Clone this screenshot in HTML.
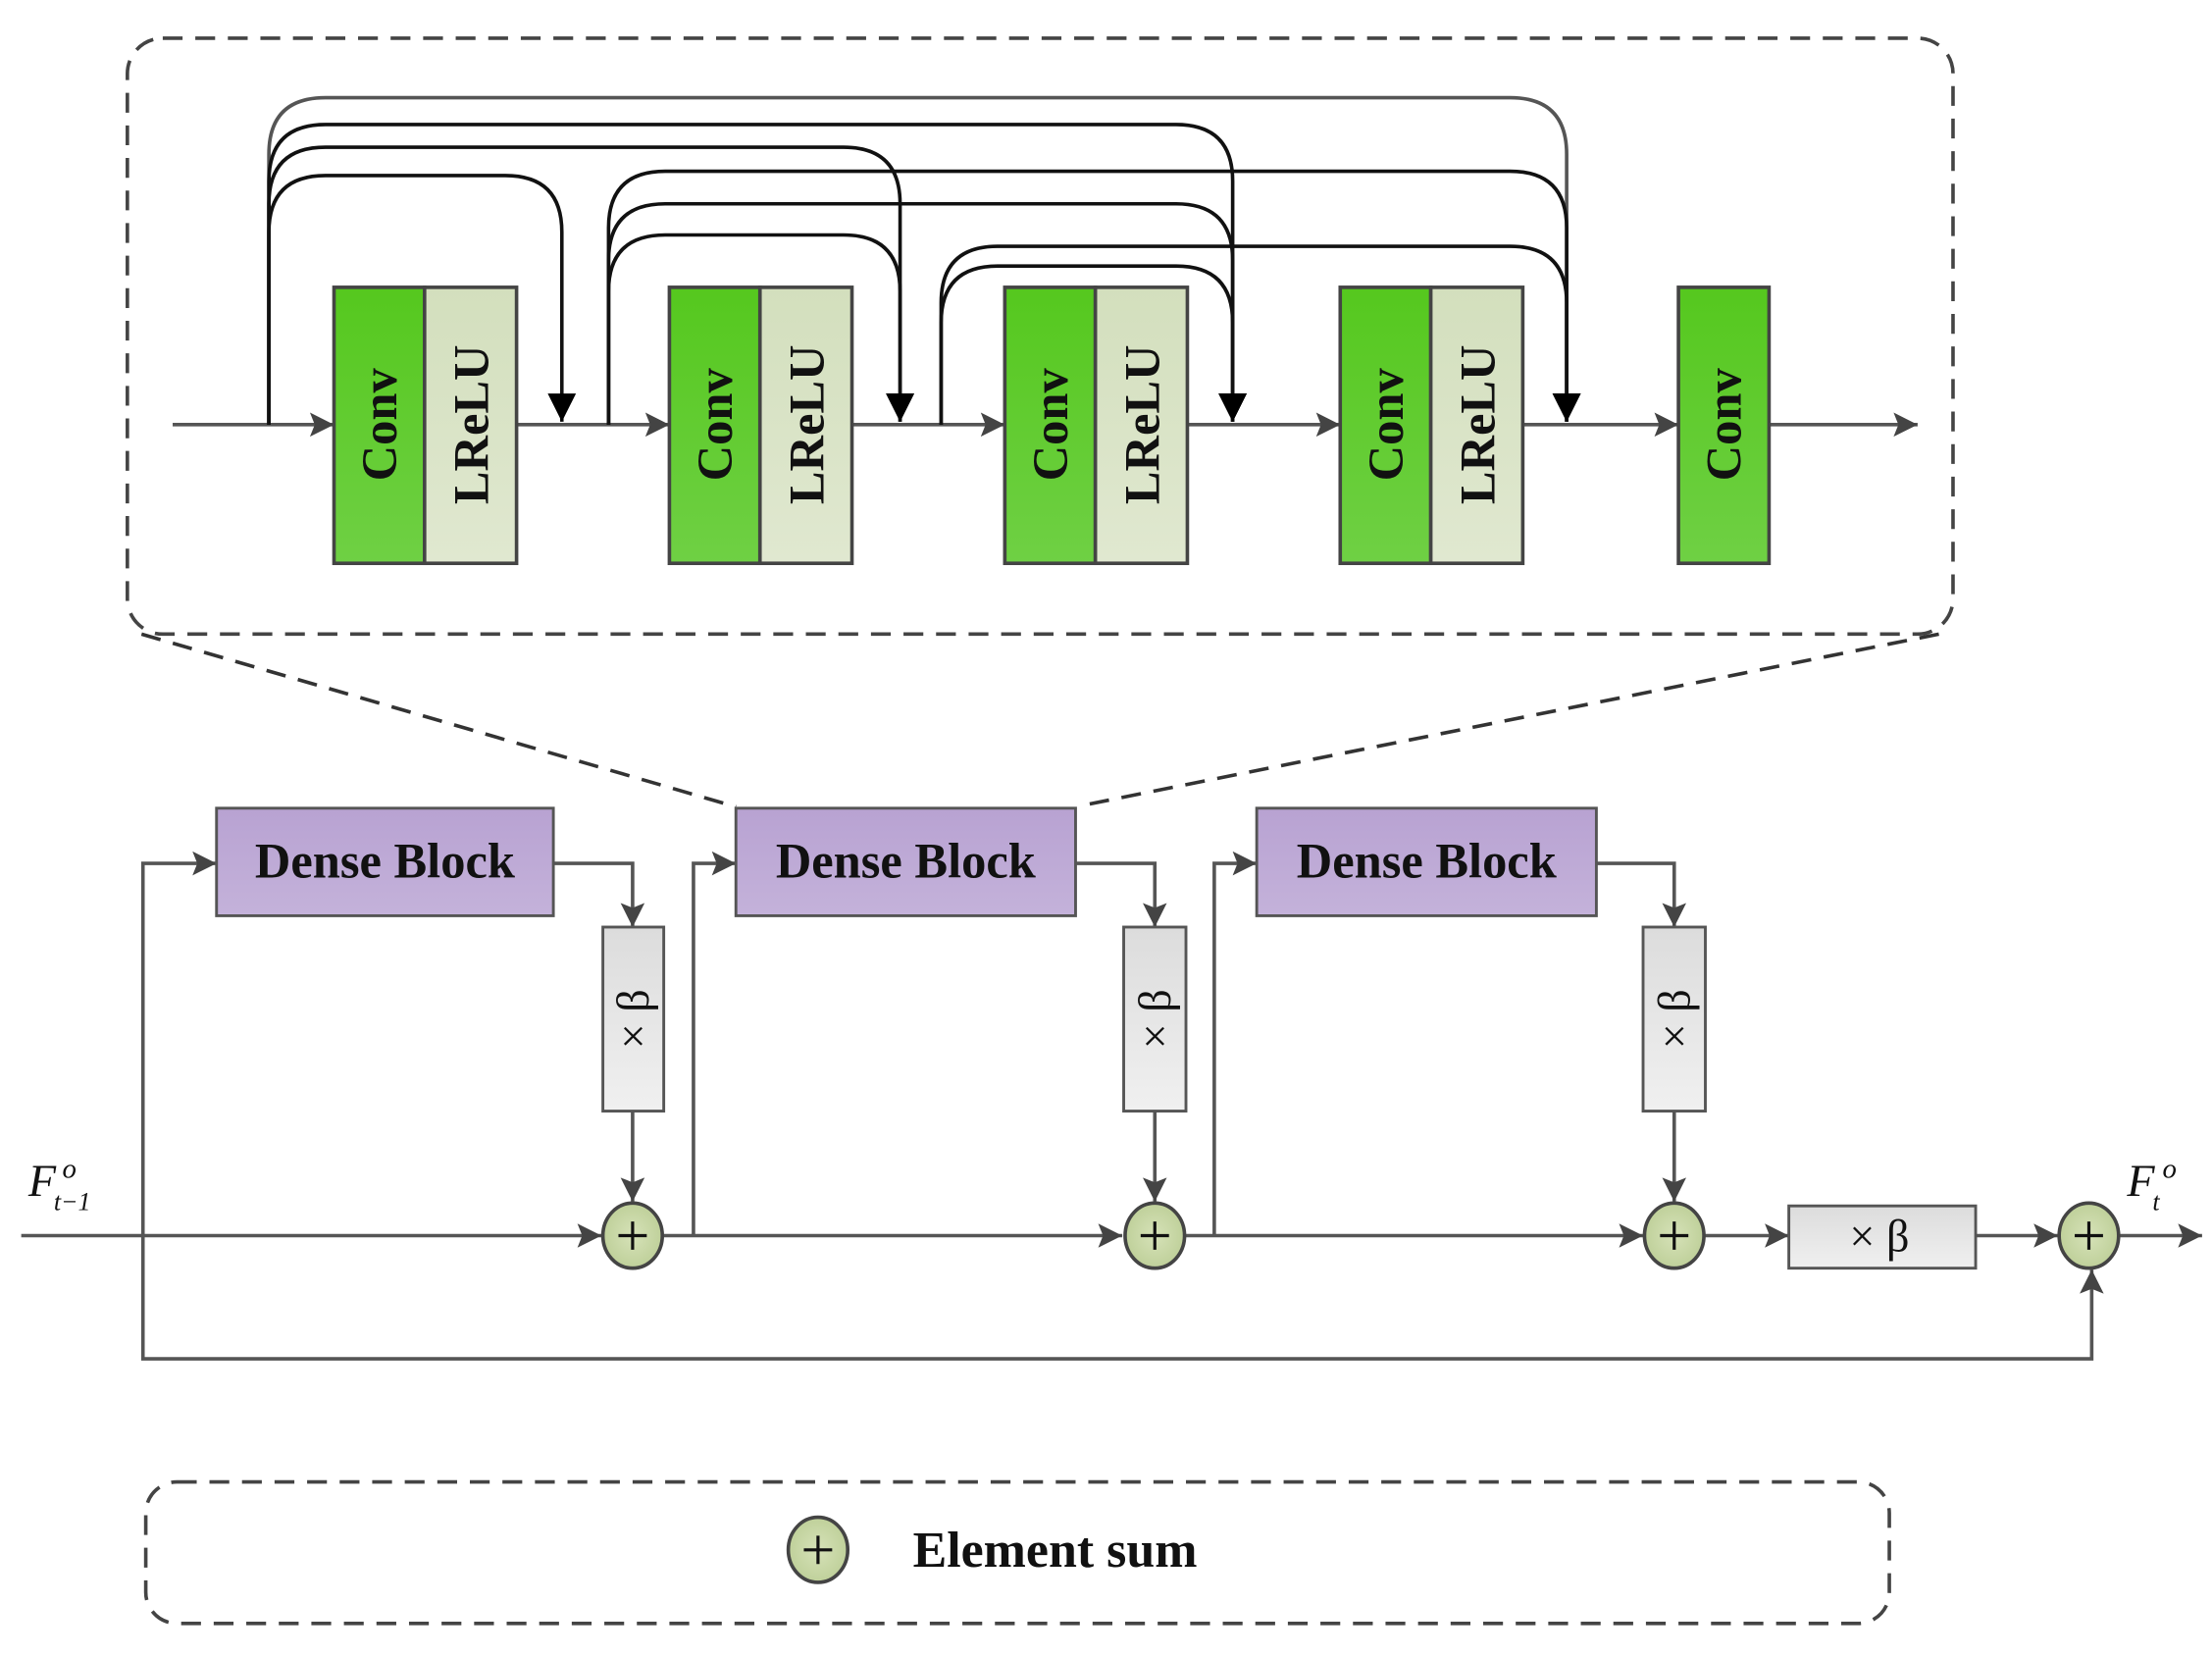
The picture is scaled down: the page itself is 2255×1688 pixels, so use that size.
<!DOCTYPE html>
<html><head><meta charset="utf-8"><style>html,body{margin:0;padding:0;background:#fff}svg{display:block}</style></head>
<body>
<svg width="2255" height="1688" viewBox="0 0 1563 1170" xmlns="http://www.w3.org/2000/svg" font-family="Liberation Serif, serif">
<defs>
<linearGradient id="g" x1="0" y1="0" x2="0" y2="1"><stop offset="0" stop-color="#55c81e"/><stop offset="1" stop-color="#6fd044"/></linearGradient>
<linearGradient id="l" x1="0" y1="0" x2="0" y2="1"><stop offset="0" stop-color="#d3dfbd"/><stop offset="1" stop-color="#e0e8d0"/></linearGradient>
<linearGradient id="p" x1="0" y1="0" x2="0" y2="1"><stop offset="0" stop-color="#b8a2d2"/><stop offset="1" stop-color="#c4b2da"/></linearGradient>
<linearGradient id="b" x1="0" y1="0" x2="0" y2="1"><stop offset="0" stop-color="#dcdcdc"/><stop offset="1" stop-color="#f0f0f0"/></linearGradient>
<radialGradient id="c"><stop offset="0" stop-color="#d6e2b8"/><stop offset="1" stop-color="#bfd09a"/></radialGradient>
<marker id="ag" viewBox="0 0 10 10" markerWidth="20" markerHeight="17" refX="10" refY="5" orient="auto" markerUnits="userSpaceOnUse"><path d="M0,0 L10,5 L0,10 L2,5 Z" fill="#444"/></marker>
<marker id="ak" viewBox="0 0 10 10" markerWidth="26" markerHeight="20" refX="10" refY="5" orient="auto" markerUnits="userSpaceOnUse"><path d="M0,0 L10,5 L0,10 Z" fill="#000"/></marker>
</defs>
<rect x="90" y="27" width="1290" height="421" rx="25" fill="none" stroke="#444" stroke-width="2.5" stroke-dasharray="14,9"/>
<line x1="100" y1="448" x2="520" y2="570" stroke="#333" stroke-width="2.5" stroke-dasharray="14,9"/>
<line x1="1370" y1="448" x2="770" y2="568" stroke="#333" stroke-width="2.5" stroke-dasharray="14,9"/>
<g stroke="#555" stroke-width="2.5" fill="none">
<line x1="122" y1="300" x2="236" y2="300" marker-end="url(#ag)"/>
<line x1="365" y1="300" x2="473" y2="300" marker-end="url(#ag)"/>
<line x1="602" y1="300" x2="710" y2="300" marker-end="url(#ag)"/>
<line x1="839" y1="300" x2="947" y2="300" marker-end="url(#ag)"/>
<line x1="1076" y1="300" x2="1186" y2="300" marker-end="url(#ag)"/>
<line x1="1250" y1="300" x2="1355" y2="300" marker-end="url(#ag)"/>
</g>
<g fill="none" stroke="#111" stroke-width="2.5">
<path d="M190,300 V109 Q190,69 230,69 H1067 Q1107,69 1107,109 V298" stroke="#555" marker-end="url(#ak)"/>
<path d="M190,300 V128 Q190,88 230,88 H831 Q871,88 871,128 V298" marker-end="url(#ak)"/>
<path d="M190,300 V144 Q190,104 230,104 H596 Q636,104 636,144 V298" marker-end="url(#ak)"/>
<path d="M190,300 V164 Q190,124 230,124 H357 Q397,124 397,164 V298" marker-end="url(#ak)"/>
<path d="M430,300 V161 Q430,121 470,121 H1067 Q1107,121 1107,161 V298" marker-end="url(#ak)"/>
<path d="M430,300 V184 Q430,144 470,144 H831 Q871,144 871,184 V298" marker-end="url(#ak)"/>
<path d="M430,300 V206 Q430,166 470,166 H596 Q636,166 636,206 V298" marker-end="url(#ak)"/>
<path d="M665,300 V214 Q665,174 705,174 H1067 Q1107,174 1107,214 V298" marker-end="url(#ak)"/>
<path d="M665,300 V228 Q665,188 705,188 H831 Q871,188 871,228 V298" marker-end="url(#ak)"/>
</g>
<g stroke="#444" stroke-width="2.5">
<rect x="236" y="203" width="64" height="195" fill="url(#g)"/><rect x="300" y="203" width="65" height="195" fill="url(#l)"/>
<rect x="473" y="203" width="64" height="195" fill="url(#g)"/><rect x="537" y="203" width="65" height="195" fill="url(#l)"/>
<rect x="710" y="203" width="64" height="195" fill="url(#g)"/><rect x="774" y="203" width="65" height="195" fill="url(#l)"/>
<rect x="947" y="203" width="64" height="195" fill="url(#g)"/><rect x="1011" y="203" width="65" height="195" fill="url(#l)"/>
<rect x="1186" y="203" width="64" height="195" fill="url(#g)"/>
</g>
<g font-weight="bold" font-size="35" fill="#111" text-anchor="middle">
<text transform="translate(280,300) rotate(-90)">Conv</text><text transform="translate(345,300) rotate(-90)">LReLU</text>
<text transform="translate(517,300) rotate(-90)">Conv</text><text transform="translate(582,300) rotate(-90)">LReLU</text>
<text transform="translate(754,300) rotate(-90)">Conv</text><text transform="translate(819,300) rotate(-90)">LReLU</text>
<text transform="translate(991,300) rotate(-90)">Conv</text><text transform="translate(1056,300) rotate(-90)">LReLU</text>
<text transform="translate(1230,300) rotate(-90)">Conv</text>
</g>
<g stroke="#555" stroke-width="2.5" fill="none">
<line x1="15" y1="873" x2="425" y2="873" marker-end="url(#ag)"/>
<line x1="469" y1="873" x2="793" y2="873" marker-end="url(#ag)"/>
<line x1="837" y1="873" x2="1161" y2="873" marker-end="url(#ag)"/>
<line x1="1205" y1="873" x2="1264" y2="873" marker-end="url(#ag)"/>
<line x1="1396" y1="873" x2="1454" y2="873" marker-end="url(#ag)"/>
<line x1="1498" y1="873" x2="1556" y2="873" marker-end="url(#ag)"/>
<path d="M101,873 V610 H153" marker-end="url(#ag)"/>
<path d="M490,873 V610 H520" marker-end="url(#ag)"/>
<path d="M858,873 V610 H888" marker-end="url(#ag)"/>
<path d="M101,873 V960 H1478 V897" marker-end="url(#ag)"/>
<path d="M391,610 H447 V655" marker-end="url(#ag)"/>
<path d="M760,610 H816 V655" marker-end="url(#ag)"/>
<path d="M1128,610 H1183 V655" marker-end="url(#ag)"/>
<line x1="447" y1="785" x2="447" y2="849" marker-end="url(#ag)"/>
<line x1="816" y1="785" x2="816" y2="849" marker-end="url(#ag)"/>
<line x1="1183" y1="785" x2="1183" y2="849" marker-end="url(#ag)"/>
</g>
<g stroke="#555" stroke-width="2" fill="url(#p)">
<rect x="153" y="571" width="238" height="76"/><rect x="520" y="571" width="240" height="76"/><rect x="888" y="571" width="240" height="76"/>
</g>
<g font-weight="bold" font-size="35" fill="#111" text-anchor="middle">
<text x="272" y="620">Dense Block</text><text x="640" y="620">Dense Block</text><text x="1008" y="620">Dense Block</text>
</g>
<g stroke="#555" stroke-width="2" fill="url(#b)">
<rect x="426" y="655" width="43" height="130"/><rect x="794" y="655" width="44" height="130"/><rect x="1161" y="655" width="44" height="130"/>
<rect x="1264" y="852" width="132" height="44"/>
</g>
<g font-size="32" fill="#111" text-anchor="middle">
<text transform="translate(458,720) rotate(-90)">× β</text>
<text transform="translate(827,720) rotate(-90)">× β</text>
<text transform="translate(1194,720) rotate(-90)">× β</text>
<text x="1328" y="884">× β</text>
</g>
<g stroke="#444" stroke-width="2.5">
<ellipse cx="447" cy="873" rx="21" ry="23" fill="url(#c)"/>
<ellipse cx="816" cy="873" rx="21" ry="23" fill="url(#c)"/>
<ellipse cx="1183" cy="873" rx="21" ry="23" fill="url(#c)"/>
<ellipse cx="1476" cy="873" rx="21" ry="23" fill="url(#c)"/>
<ellipse cx="578" cy="1095" rx="21" ry="23" fill="url(#c)"/>
</g>
<g stroke="#111" stroke-width="2.2">
<path d="M437,873 H457 M447,863 V883"/><path d="M806,873 H826 M816,863 V883"/><path d="M1173,873 H1193 M1183,863 V883"/><path d="M1466,873 H1486 M1476,863 V883"/><path d="M568,1095 H588 M578,1085 V1105"/>
</g>
<g font-style="italic" fill="#111">
<text x="20" y="845" font-size="32">F</text><text x="44" y="832" font-size="20">o</text><text x="38" y="855" font-size="18">t−1</text>
<text x="1503" y="845" font-size="32">F</text><text x="1528" y="832" font-size="20">o</text><text x="1521" y="855" font-size="18">t</text>
</g>
<rect x="103" y="1047" width="1232" height="100" rx="22" fill="none" stroke="#444" stroke-width="2.5" stroke-dasharray="14,9"/>
<text x="645" y="1107" font-size="36" font-weight="bold" fill="#111">Element sum</text>
</svg>
</body></html>
